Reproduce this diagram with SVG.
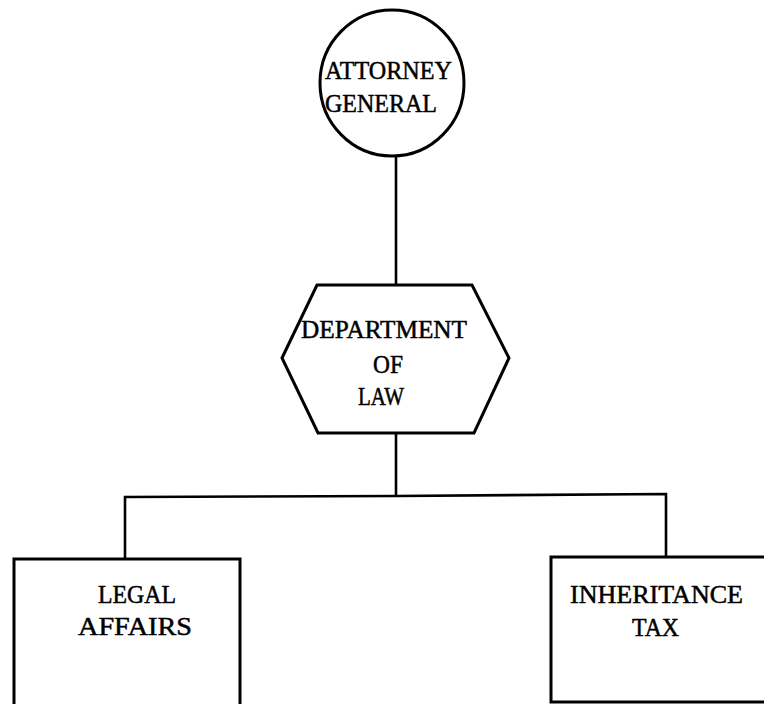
<svg xmlns="http://www.w3.org/2000/svg" width="764" height="704" viewBox="0 0 764 704">
<style>
.shape{fill:#fff;stroke:#000;stroke-width:3}
.conn{fill:none;stroke:#000;stroke-width:2.6}
.t{font-family:"Liberation Serif","Times New Roman",serif;font-size:26px;fill:#000;stroke:#000;stroke-width:0.5}
</style>
<rect width="764" height="704" fill="#fff"/>
<g id="connectors">
<line class="conn" x1="396" y1="156" x2="396" y2="285"/>
<line class="conn" x1="396" y1="433" x2="396" y2="496"/>
<polyline class="conn" points="125,559 125,497 396,496 666,494 666,557"/>
</g>
<g id="attorney-general">
<ellipse class="shape" cx="392" cy="83" rx="72" ry="73"/>
<text class="t" x="325" y="79" textLength="127" lengthAdjust="spacingAndGlyphs">ATTORNEY</text>
<text class="t" x="325" y="112" textLength="112" lengthAdjust="spacingAndGlyphs">GENERAL</text>
</g>
<g id="department-of-law">
<polygon class="shape" points="282,358 317,285 472,285 509,358 474,433 318,433"/>
<text class="t" x="301" y="338" textLength="166" lengthAdjust="spacingAndGlyphs">DEPARTMENT</text>
<text class="t" x="373" y="373" textLength="30" lengthAdjust="spacingAndGlyphs">OF</text>
<text class="t" x="358" y="405" textLength="46" lengthAdjust="spacingAndGlyphs">LAW</text>
</g>
<g id="legal-affairs">
<rect class="shape" x="14" y="559" width="226" height="160"/>
<text class="t" x="98" y="603" textLength="78" lengthAdjust="spacingAndGlyphs">LEGAL</text>
<text class="t" x="78" y="635" textLength="114" lengthAdjust="spacingAndGlyphs">AFFAIRS</text>
</g>
<g id="inheritance-tax">
<rect class="shape" x="551" y="557" width="230" height="145"/>
<text class="t" x="570" y="603" textLength="173" lengthAdjust="spacingAndGlyphs">INHERITANCE</text>
<text class="t" x="632" y="636" textLength="47" lengthAdjust="spacingAndGlyphs">TAX</text>
</g>
</svg>
